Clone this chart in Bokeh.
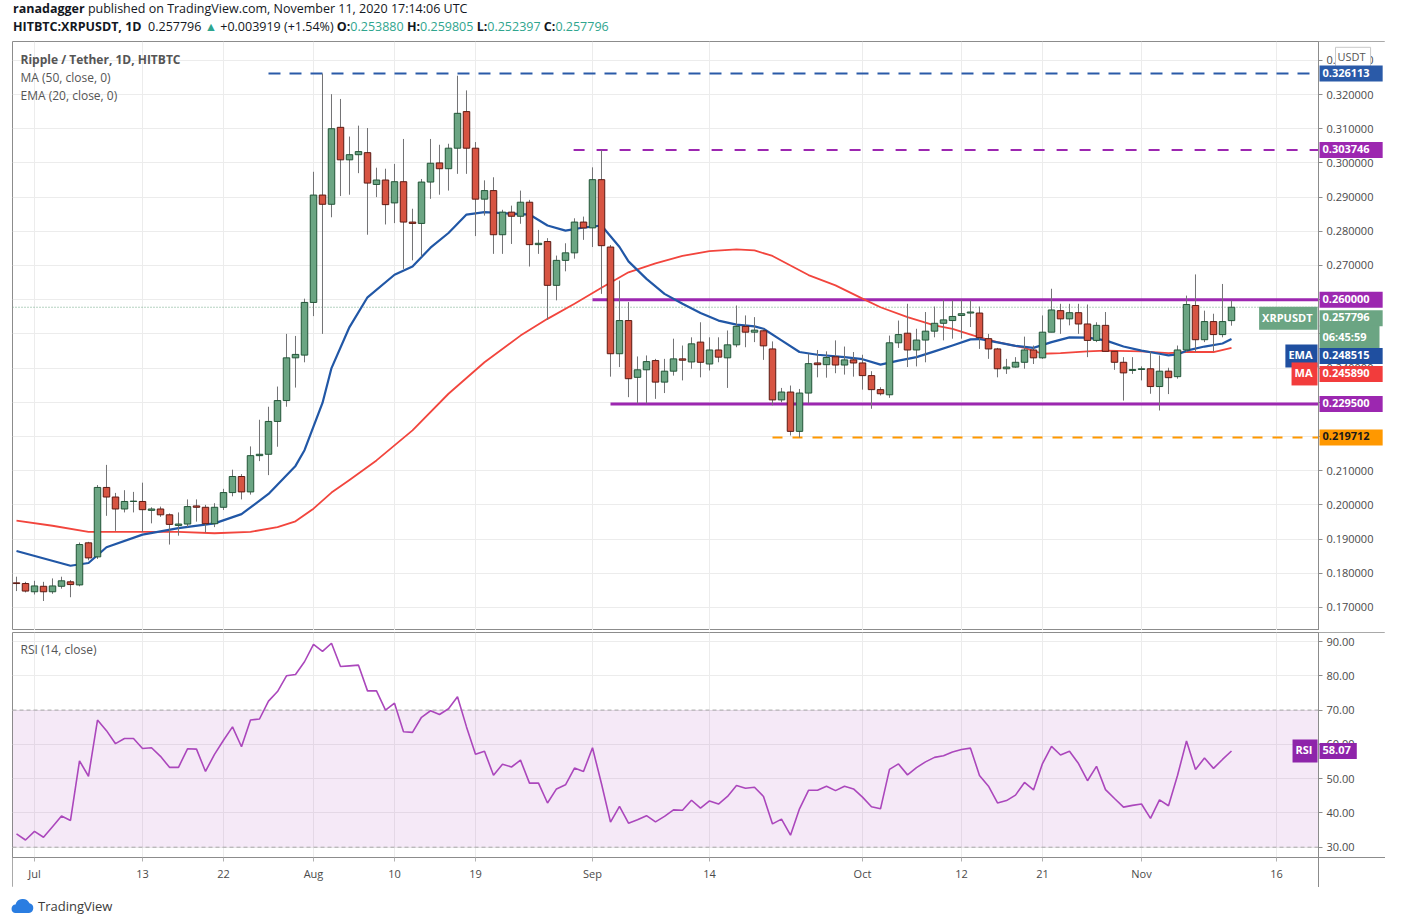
from bokeh.plotting import figure
from bokeh.models import (ColumnDataSource, Range1d, FixedTicker, PrintfTickFormatter,
                          BoxAnnotation, Label, Div)
from bokeh.layouts import column
from bokeh.embed import file_html
from bokeh.resources import INLINE

FONT = "Open Sans"

# ---------------- data ----------------
# x = days since 2020-07-01 ; first candle is Jun 29 (day -2)
first_day = -2
opens = [0.1772, 0.1770, 0.1746, 0.1762, 0.1746, 0.1762, 0.1775, 0.1766, 0.1889, 0.1848,
         0.2051, 0.2023, 0.1988, 0.2010, 0.2010, 0.1984, 0.1988, 0.1971, 0.1940, 0.1944,
         0.1997, 0.1993, 0.1945, 0.1993, 0.2036, 0.2083, 0.2038, 0.2144, 0.2148, 0.2244,
         0.2305, 0.2430, 0.2438, 0.2592, 0.2906, 0.2879, 0.3104, 0.3009, 0.3024, 0.3030,
         0.2937, 0.2950, 0.2883, 0.2945, 0.2827, 0.2823, 0.2944, 0.3000, 0.2983, 0.3043,
         0.3150, 0.3043, 0.2894, 0.2919, 0.2790, 0.2856, 0.2844, 0.2885, 0.2761, 0.2770,
         0.2642, 0.2715, 0.2737, 0.2827, 0.2810, 0.2951, 0.2754, 0.2442, 0.2539, 0.2373,
         0.2395, 0.2422, 0.2359, 0.2391, 0.2427, 0.2418, 0.2476, 0.2412, 0.2453, 0.2430,
         0.2468, 0.2522, 0.2505, 0.2509, 0.2456, 0.2307, 0.2330, 0.2215, 0.2327, 0.2415,
         0.2410, 0.2433, 0.2409, 0.2424, 0.2415, 0.2378, 0.2337, 0.2322, 0.2474, 0.2502,
         0.2453, 0.2482, 0.2508, 0.2531, 0.2539, 0.2554, 0.2561, 0.2561, 0.2486, 0.2456,
         0.2398, 0.2403, 0.2417, 0.2453, 0.2430, 0.2505, 0.2568, 0.2544, 0.2562, 0.2529,
         0.2481, 0.2525, 0.2449, 0.2417, 0.2393, 0.2396, 0.2398, 0.2346, 0.2391, 0.2375,
         0.2453, 0.2583, 0.2483, 0.2536, 0.2498, 0.253880]
highs = [0.1790, 0.1775, 0.1778, 0.1775, 0.1785, 0.1790, 0.1780, 0.1890, 0.1892, 0.2058,
         0.2117, 0.2035, 0.2043, 0.2038, 0.2065, 0.1993, 0.1995, 0.1975, 0.1978, 0.2016,
         0.2016, 0.2000, 0.2005, 0.2047, 0.2103, 0.2090, 0.2171, 0.2249, 0.2287, 0.2346,
         0.2500, 0.2494, 0.2603, 0.2974, 0.326113, 0.3201, 0.3187, 0.3077, 0.3109, 0.3102,
         0.2986, 0.2983, 0.2997, 0.3070, 0.2866, 0.2953, 0.3070, 0.3053, 0.3056, 0.3255,
         0.3212, 0.3061, 0.2949, 0.2958, 0.2863, 0.2875, 0.2919, 0.2892, 0.2804, 0.2780,
         0.2729, 0.2765, 0.2838, 0.2843, 0.2987, 0.303746, 0.2760, 0.2656, 0.2593, 0.2434,
         0.2437, 0.2427, 0.2427, 0.2486, 0.2466, 0.2490, 0.2534, 0.2490, 0.2490, 0.2510,
         0.2583, 0.2554, 0.2549, 0.2515, 0.2478, 0.2342, 0.2349, 0.2339, 0.2442, 0.2453,
         0.2449, 0.2481, 0.2463, 0.2447, 0.2439, 0.2391, 0.2344, 0.2495, 0.2539, 0.2588,
         0.2515, 0.2564, 0.2580, 0.2600, 0.2598, 0.2600, 0.2598, 0.2580, 0.2500, 0.2459,
         0.2427, 0.2432, 0.2492, 0.2466, 0.2554, 0.2632, 0.2588, 0.2588, 0.2588, 0.2586,
         0.2534, 0.2564, 0.2449, 0.2432, 0.2432, 0.2405, 0.2449, 0.2437, 0.2401, 0.2466,
         0.2612, 0.2674, 0.2568, 0.2559, 0.2646, 0.259805]
lows = [0.1748, 0.1744, 0.1738, 0.1719, 0.1740, 0.1755, 0.1730, 0.1762, 0.1838, 0.1842,
        0.1968, 0.1924, 0.1978, 0.1978, 0.1921, 0.1946, 0.1965, 0.1884, 0.1910, 0.1935,
        0.1951, 0.1919, 0.1935, 0.1985, 0.2025, 0.2016, 0.2030, 0.2128, 0.2087, 0.2170,
        0.2287, 0.2343, 0.2417, 0.2552, 0.2500, 0.2841, 0.2903, 0.2907, 0.2970, 0.2790,
        0.2900, 0.2820, 0.2824, 0.2690, 0.2715, 0.2726, 0.2895, 0.2907, 0.2919, 0.2968,
        0.2968, 0.2786, 0.2846, 0.2734, 0.2734, 0.2763, 0.2822, 0.2697, 0.2734, 0.2541,
        0.2598, 0.2683, 0.2720, 0.2775, 0.2754, 0.2617, 0.2375, 0.2403, 0.2315, 0.2296,
        0.2296, 0.2310, 0.2327, 0.2378, 0.2364, 0.2398, 0.2373, 0.2393, 0.2417, 0.2342,
        0.2461, 0.2461, 0.2476, 0.2424, 0.2291, 0.2300, 0.2203, 0.219712, 0.2296, 0.2373,
        0.2372, 0.2385, 0.2381, 0.2375, 0.2337, 0.2281, 0.2320, 0.2313, 0.2459, 0.2403,
        0.2405, 0.2417, 0.2490, 0.2481, 0.2486, 0.2486, 0.2520, 0.2456, 0.2427, 0.2373,
        0.2383, 0.2401, 0.2398, 0.2412, 0.2427, 0.2505, 0.2500, 0.2525, 0.2500, 0.2432,
        0.2476, 0.2449, 0.2395, 0.2305, 0.2383, 0.2364, 0.2325, 0.2276, 0.2324, 0.2369,
        0.2447, 0.2447, 0.2476, 0.2449, 0.2490, 0.252397]
closes = [0.1770, 0.1748, 0.1763, 0.1746, 0.1763, 0.1778, 0.1767, 0.1884, 0.1845, 0.2051,
          0.2023, 0.1988, 0.2010, 0.2011, 0.1986, 0.1988, 0.1971, 0.1943, 0.1944, 0.1995,
          0.1993, 0.1945, 0.1993, 0.2036, 0.2083, 0.2038, 0.2144, 0.2148, 0.2244, 0.2305,
          0.2430, 0.2440, 0.2592, 0.2906, 0.2879, 0.3100, 0.3009, 0.3024, 0.3033, 0.2941,
          0.2950, 0.2878, 0.2945, 0.2827, 0.2823, 0.2944, 0.2999, 0.2983, 0.3043, 0.3145,
          0.3043, 0.2894, 0.2919, 0.2790, 0.2856, 0.2844, 0.2885, 0.2761, 0.2765, 0.2642,
          0.2715, 0.2737, 0.2827, 0.2810, 0.2951, 0.2758, 0.2442, 0.2539, 0.2369, 0.2395,
          0.2419, 0.2359, 0.2391, 0.2427, 0.2423, 0.2471, 0.2417, 0.2453, 0.2432, 0.2468,
          0.2522, 0.2505, 0.2511, 0.2465, 0.2307, 0.2330, 0.2215, 0.2327, 0.2413, 0.2410,
          0.2431, 0.2409, 0.2424, 0.2415, 0.2378, 0.2337, 0.2325, 0.2474, 0.2498, 0.2453,
          0.2482, 0.2508, 0.2531, 0.2541, 0.2551, 0.2559, 0.2564, 0.2489, 0.2456, 0.2398,
          0.2403, 0.2417, 0.2453, 0.2430, 0.2505, 0.2570, 0.2544, 0.2562, 0.2529, 0.2481,
          0.2525, 0.2449, 0.2417, 0.2386, 0.2396, 0.2398, 0.2346, 0.2391, 0.2372, 0.2453,
          0.2586, 0.2483, 0.2536, 0.2498, 0.2536, 0.257796]
rsi = [33.9, 32.1, 34.6, 32.9, 36.0, 39.1, 37.8, 55.2, 50.7, 67.1,
       64.0, 60.2, 61.7, 61.7, 58.8, 59.0, 56.5, 53.3, 53.3, 58.7,
       58.6, 52.1, 57.1, 61.2, 65.1, 59.3, 67.1, 67.4, 72.6, 75.4,
       80.0, 80.4, 84.1, 89.2, 87.1, 89.5, 82.7, 82.9, 83.1, 75.6,
       75.6, 70.0, 72.0, 63.7, 63.5, 67.9, 69.8, 68.7, 70.4, 73.9,
       65.1, 57.1, 58.0, 51.0, 54.2, 53.4, 55.4, 48.7, 48.7, 42.9,
       47.0, 48.2, 53.1, 52.1, 59.0, 48.5, 37.3, 41.9, 37.0, 38.0,
       39.2, 37.4, 39.0, 40.9, 40.8, 43.7, 41.4, 43.5, 42.6, 44.8,
       48.0, 47.2, 47.5, 44.8, 36.8, 38.2, 33.5, 41.2, 46.6, 46.6,
       47.8, 46.5, 47.8, 47.0, 44.6, 41.8, 41.2, 52.7, 54.3, 51.1,
       53.2, 54.9, 56.2, 56.7, 57.8, 58.5, 58.9, 50.9, 47.8, 42.9,
       43.6, 45.2, 48.9, 46.7, 54.4, 59.4, 56.9, 58.0, 54.4, 49.4,
       53.6, 46.8, 44.2, 41.7, 42.2, 42.6, 38.4, 43.8, 42.1, 50.9,
       61.0, 52.7, 56.0, 53.0, 55.6, 58.07]

ema_days = [-2, 4, 6, 8, 12, 16, 20, 23, 26, 29, 30, 32, 33, 35, 37, 40, 42, 44, 46, 48,
            50, 52, 55, 57, 59, 61, 63, 65, 66, 68, 70, 72, 74, 76, 78, 80, 81, 83, 85, 87,
            90, 92, 94, 96, 98, 100, 102, 104, 105, 107, 109, 111, 113, 115, 117, 119, 121,
            123, 125, 126, 127, 128, 130, 132, 133]
ema_vals = [0.1865, 0.1822, 0.1830, 0.1876, 0.1913, 0.1932, 0.1946, 0.1973, 0.2032, 0.2114,
            0.2160, 0.2298, 0.2400, 0.2520, 0.2607, 0.2673, 0.2697, 0.2752, 0.2795, 0.2849,
            0.2856, 0.2853, 0.2849, 0.2817, 0.2802, 0.2811, 0.2817, 0.2754, 0.2712, 0.2661,
            0.2617, 0.2588, 0.2561, 0.2539, 0.2527, 0.2522, 0.2515, 0.2481, 0.2447, 0.2439,
            0.2432, 0.2426, 0.2410, 0.2422, 0.2432, 0.2449, 0.2466, 0.2484, 0.2485, 0.2475,
            0.2465, 0.2459, 0.2476, 0.2490, 0.2489, 0.2481, 0.2463, 0.2451, 0.2442, 0.2437,
            0.2440, 0.2451, 0.2463, 0.2472, 0.248515]
ma_days = [-2, 2, 6, 11, 16, 20, 24, 27, 29, 31, 33, 35, 38, 42, 46, 50, 54, 57, 60, 63,
           66, 69, 72, 75, 78, 80, 82, 84, 86, 89, 92, 94, 97, 100, 102, 105, 107, 110, 112,
           114, 117, 119, 123, 126, 128, 131, 133]
ma_vals = [0.1954, 0.1939, 0.1921, 0.1921, 0.1921, 0.1917, 0.1921, 0.1935, 0.1952, 0.1989,
           0.2036, 0.2073, 0.2130, 0.2218, 0.2325, 0.2417, 0.2495, 0.2544, 0.2588, 0.2635,
           0.2680, 0.2706, 0.2728, 0.2742, 0.2747, 0.2744, 0.2728, 0.2700, 0.2672, 0.2642,
           0.2603, 0.2578, 0.2549, 0.2525, 0.2515, 0.2490, 0.2476, 0.2459, 0.2442, 0.2444,
           0.2449, 0.2451, 0.2449, 0.2444, 0.2447, 0.2447, 0.245890]

tick_days = [0, 12, 21, 31, 40, 49, 62, 75, 92, 103, 112, 123, 138]
tick_labels = ["Jul", "13", "22", "Aug", "10", "19", "Sep", "14", "Oct", "12", "21", "Nov", "16"]
price_ticks = [0.17, 0.18, 0.19, 0.20, 0.21, 0.22, 0.23, 0.24, 0.25, 0.26, 0.27, 0.28,
               0.29, 0.30, 0.31, 0.32, 0.33]
rsi_ticks = [30, 40, 50, 60, 70, 80, 90]

level_vals = [0.326113, 0.303746, 0.260000, 0.229500, 0.219712]
level_start = [26, 59.9, 62, 64, 82]
last_close = closes[-1]
last_ema = ema_vals[-1]
last_ma = ma_vals[-1]
last_rsi = rsi[-1]
countdown = "06:45:59"

# ---------------- styles / geometry ----------------
UP_FILL, UP_LINE = "#6ba583", "#225437"
DN_FILL, DN_LINE = "#d75442", "#5b1a13"
WICK = "#737375"
EMA_C, MA_C = "#2157a6", "#f2453d"
PURPLE, BLUE_L, ORANGE, GREEN_T = "#9c27b0", "#2a5aa8", "#ff9800", "#6ba583"
RSI_C = "#ab47bc"
RSI_TAG = "#8e24aa"
GRID = "#ececec"
FRAME = "#8c8c8c"
TXT = "#4a4a4a"

LEFT = 12
PLOT_W = 1306          # width of the chart area (left of the price scale)
SCALE_W = 67           # width of the price-scale column
FULL_W = PLOT_W + SCALE_W
W = LEFT + FULL_W
X0, X1 = -2.444, 142.667                      # visible days in the chart area
X2 = X0 + (X1 - X0) * FULL_W / PLOT_W         # frame also spans the price-scale column
PY0, PY1, PH = 0.16327, 0.3355, 589
RH_PLOT, RH_AXIS = 225, 30
RY1, RY_AX = 92.63, 27.0                      # RSI at top edge / at time-axis line
RY0 = RY_AX - (RY1 - RY_AX) * RH_AXIS / RH_PLOT
RH = RH_PLOT + RH_AXIS

days = list(range(first_day, first_day + len(closes)))
up = [c >= o for o, c in zip(opens, closes)]
src = ColumnDataSource(dict(
    x=days, h=highs, l=lows,
    top=[max(o, c) for o, c in zip(opens, closes)],
    bottom=[min(o, c) for o, c in zip(opens, closes)],
    fill=[UP_FILL if u else DN_FILL for u in up],
    line=[UP_LINE if u else DN_LINE for u in up],
))


def style(fig, fmt, ticks):
    fig.background_fill_color = "white"
    fig.border_fill_color = "white"
    fig.outline_line_color = FRAME
    fig.outline_line_width = 1
    fig.xgrid.ticker = FixedTicker(ticks=tick_days)
    fig.ygrid.ticker = FixedTicker(ticks=ticks)
    fig.xgrid.grid_line_color = GRID
    fig.ygrid.grid_line_color = GRID
    ax = fig.yaxis[0]
    ax.fixed_location = X1
    ax.ticker = FixedTicker(ticks=ticks)
    ax.formatter = PrintfTickFormatter(format=fmt)
    ax.axis_line_color = FRAME
    ax.major_tick_line_color = FRAME
    ax.major_tick_out = 4
    ax.major_tick_in = 0
    ax.minor_tick_line_color = None
    ax.major_label_text_font = FONT
    ax.major_label_text_font_size = "11px"
    ax.major_label_text_color = TXT
    ax.major_label_standoff = 4
    # keep the price-scale column free of grid lines
    fig.add_layout(BoxAnnotation(left=X1, fill_color="white", fill_alpha=1.0,
                                 line_alpha=0, level="underlay"))


def tag(fig, v, text, bg, fg="white", side="right", dy=0, pad_r=13):
    right = side == "right"
    lab = Label(x=PLOT_W + 1 if right else PLOT_W - 1, y=v, x_units="screen", y_units="data",
                text=text, text_align="left" if right else "right", text_baseline="middle",
                text_color=fg, text_font=FONT, text_font_size="11px", text_font_style="bold",
                background_fill_color=bg, y_offset=dy, level="overlay",
                padding=(3, pad_r, 3, 5) if right else (3, 5, 3, 5))
    fig.add_layout(lab)


# ---------------- price pane ----------------
p = figure(width=W, height=PH, x_range=Range1d(X0, X2), y_range=Range1d(PY0, PY1),
           output_backend="svg", toolbar_location=None, y_axis_location="right",
           x_axis_location=None, min_border_left=LEFT, min_border_right=0,
           min_border_top=0, min_border_bottom=0)
style(p, "%.6f", price_ticks)

p.segment(x0=X0, y0=last_close, x1=X1, y1=last_close, line_color=GREEN_T,
          line_dash="1 2", line_width=1)

lv_colors = [BLUE_L, PURPLE, PURPLE, PURPLE, ORANGE]
lv_dash = ["12 9", "11 12", "solid", "solid", "10 10"]
lv_width = [2, 2, 3, 3, 2]
for v, s, c, d, w in zip(level_vals, level_start, lv_colors, lv_dash, lv_width):
    p.segment(x0=s, y0=v, x1=X1, y1=v, line_color=c, line_dash=d, line_width=w)

p.line(ma_days, ma_vals, line_color=MA_C, line_width=1.8, line_join="round")
p.line(ema_days, ema_vals, line_color=EMA_C, line_width=2.2, line_join="round")

p.segment(x0="x", y0="h", x1="x", y1="l", source=src, line_color=WICK, line_width=1)
p.vbar(x="x", width=0.72, top="top", bottom="bottom", source=src,
       fill_color="fill", line_color="line", line_width=1)

for i, t in enumerate(["Ripple / Tether, 1D, HITBTC", "MA (50, close, 0)", "EMA (20, close, 0)"]):
    p.add_layout(Label(x=8, y=PH - 18 - 18 * i, x_units="screen", y_units="screen", text=t,
                       text_font=FONT, text_font_size="12px", text_baseline="middle",
                       text_color="#555555", text_font_style="bold" if i == 0 else "normal"))

# currency box at the top of the price scale (drawn first, tags go over it)
p.add_layout(Label(x=PLOT_W + 17, y=price_ticks[-1], x_units="screen", y_units="data",
                   text="USDT", text_font=FONT, text_font_size="11px", text_baseline="middle",
                   text_color="#555555", background_fill_color="white", level="overlay",
                   border_line_color="#c8c8c8", padding=(2, 5, 2, 5), y_offset=2))

tag(p, level_vals[0], "%.6f" % level_vals[0], BLUE_L)
tag(p, level_vals[1], "%.6f" % level_vals[1], PURPLE)
tag(p, level_vals[2], "%.6f" % level_vals[2], PURPLE)
tag(p, last_close, "%.6f" % last_close, GREEN_T, dy=-11)
tag(p, last_close, "XRPUSDT", GREEN_T, side="left", dy=-11)
tag(p, last_close, countdown, GREEN_T, dy=-30)
tag(p, last_ema, "%.6f" % last_ema, "#1f4fa0", dy=-17)
tag(p, last_ema, "EMA", "#1f4fa0", side="left", dy=-17)
tag(p, last_ma, "%.6f" % last_ma, "#f23c3c", dy=-26)
tag(p, last_ma, "MA", "#f23c3c", side="left", dy=-26)
tag(p, level_vals[3], "%.6f" % level_vals[3], PURPLE)
tag(p, level_vals[4], "%.6f" % level_vals[4], ORANGE, fg="#1a1a1a")

# ---------------- RSI pane ----------------
r = figure(width=W, height=RH + 2, x_range=p.x_range, y_range=Range1d(RY0, RY1),
           output_backend="svg", toolbar_location=None, y_axis_location="right",
           min_border_left=LEFT, min_border_right=0, min_border_top=2, min_border_bottom=0)
style(r, "%.2f", rsi_ticks)
# keep the time-axis row free of grid lines
r.add_layout(BoxAnnotation(top=RY_AX, fill_color="white", fill_alpha=1.0,
                           line_alpha=0, level="underlay"))
r.add_layout(BoxAnnotation(bottom=30, top=70, right=X1, fill_color=PURPLE, fill_alpha=0.10,
                           line_alpha=0, level="underlay"))
r.segment(x0=[X0, X0], y0=[30, 70], x1=[X1, X1], y1=[30, 70], line_color="#a8a8a8",
          line_dash="4 3", line_width=1)
r.line(days, rsi, line_color=RSI_C, line_width=1.6)

xa = r.xaxis[0]
xa.fixed_location = RY_AX
xa.ticker = FixedTicker(ticks=tick_days)
xa.major_label_overrides = {d: t for d, t in zip(tick_days, tick_labels)}
xa.axis_line_color = FRAME
xa.major_tick_line_color = "#b0b0b0"
xa.major_tick_out = 4
xa.major_tick_in = 0
xa.minor_tick_line_color = None
xa.major_label_text_font = FONT
xa.major_label_text_font_size = "11px"
xa.major_label_text_color = TXT
xa.major_label_standoff = 4

r.add_layout(Label(x=8, y=RH - 17, x_units="screen", y_units="screen", text="RSI (14, close)",
                   text_font=FONT, text_font_size="12px", text_baseline="middle",
                   text_color="#555555"))
tag(r, last_rsi, "%.2f" % last_rsi, RSI_TAG, pad_r=6)
tag(r, last_rsi, "RSI", RSI_TAG, side="left")

# ---------------- header / footer ----------------
g = "color:#2fa58e"
header = Div(width=W, height=31, text=(
    '<div style="position:relative;top:-5px;left:8px;font-family:\'Open Sans\';font-size:12.5px;'
    'line-height:18px;color:#131722;white-space:nowrap">'
    '<b>ranadagger</b> published on TradingView.com, November 11, 2020 17:14:06 UTC<br>'
    '<b>HITBTC:XRPUSDT, 1D</b>&nbsp; 0.257796 <span style="%s">&#9650;</span> +0.003919 (+1.54%%) '
    '<b>O:</b><span style="%s">0.253880</span> <b>H:</b><span style="%s">0.259805</span> '
    '<b>L:</b><span style="%s">0.252397</span> <b>C:</b><span style="%s">0.257796</span>'
    '</div>') % (g, g, g, g, g))
footer = Div(width=W, height=30, text=(
    '<div style="position:relative;left:3px;top:5px;font-family:\'Open Sans\';font-size:13px;'
    'color:#3b3b3b;white-space:nowrap;display:flex;align-items:center;gap:3px">'
    '<svg width="27" height="16" viewBox="0 0 27 16"><path d="M7 15 H21 A5 5 0 0 0 21.5 5.2 '
    'A7.5 7.5 0 0 0 7.5 6.5 A4.3 4.3 0 0 0 7 15 Z" fill="#2a7de1"/></svg>'
    '<span>TradingView</span></div>'))

root = column(header, p, r, footer, spacing=0)
open("out.html", "w").write(file_html(root, INLINE))
